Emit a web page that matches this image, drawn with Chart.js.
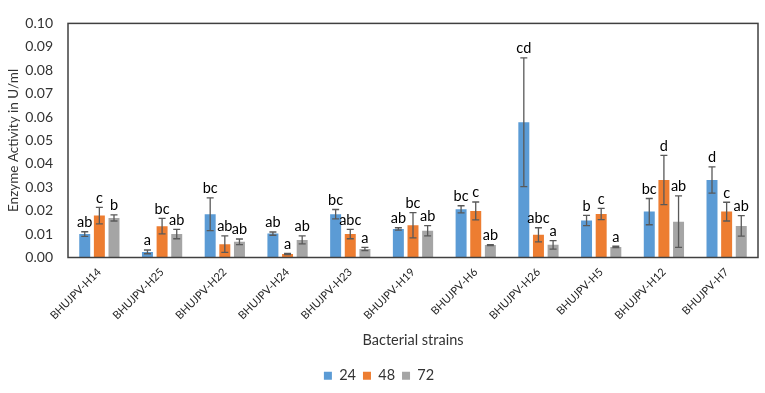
<!DOCTYPE html>
<html>
<head>
<meta charset="utf-8">
<script src="https://cdn.jsdelivr.net/npm/chart.js@4/dist/chart.umd.min.js"></script>
<style>
html,body{margin:0;padding:0;background:#fff;}
#wrap{width:765px;height:393px;}
</style>
</head>
<body>
<div id="wrap"><canvas id="c" width="765" height="393"></canvas></div>
<script>
const categories = ['BHUJPV-H14','BHUJPV-H25','BHUJPV-H22','BHUJPV-H24','BHUJPV-H23','BHUJPV-H19','BHUJPV-H6','BHUJPV-H26','BHUJPV-H5','BHUJPV-H12','BHUJPV-H7'];
const seriesNames = ['24','48','72'];
const s24 = [0.0100,0.0024,0.0185,0.0102,0.0185,0.0122,0.0206,0.0578,0.0158,0.0196,0.0331];
const s48 = [0.0179,0.0134,0.0057,0.0015,0.0100,0.0138,0.0199,0.0097,0.0186,0.0331,0.0196];
const s72 = [0.0169,0.0100,0.0067,0.0075,0.0036,0.0114,0.0053,0.0054,0.0045,0.0153,0.0135];
const e24 = [0.0010,0.0008,0.0070,0.0007,0.0020,0.0005,0.0015,0.0275,0.0022,0.0056,0.0056];
const e48 = [0.0035,0.0033,0.0035,0.0003,0.0020,0.0054,0.0038,0.0030,0.0024,0.0105,0.0040];
const e72 = [0.0013,0.0020,0.0012,0.0017,0.0007,0.0022,0.0002,0.0018,0.0003,0.0110,0.0044];
const letters24 = ['ab','a','bc','ab','bc','ab','bc','cd','b','bc','d'];
const letters48 = ['c','bc','ab','a','abc','bc','c','abc','c','d','c'];
const letters72 = ['b','ab','ab','ab','a','ab','ab','a','a','ab','ab'];
const yTicks = [0,0.01,0.02,0.03,0.04,0.05,0.06,0.07,0.08,0.09,0.10];

const FONT = 'Lato, "Liberation Sans", sans-serif';
const colors = ['#5B9BD5','#ED7D31','#A5A5A5'];
const errs = [e24,e48,e72];
const letters = [letters24,letters48,letters72];

const errPlugin = {
  id:'errBars',
  afterDatasetsDraw(chart){
    const ctx = chart.ctx;
    const y = chart.scales.y;
    ctx.save();
    chart.data.datasets.forEach((ds,di)=>{
      const meta = chart.getDatasetMeta(di);
      meta.data.forEach((el,i)=>{
        const v = ds.data[i], e = errs[di][i];
        const yt = y.getPixelForValue(v+e), yb = y.getPixelForValue(Math.max(0,v-e));
        ctx.strokeStyle = '#595959';
        ctx.lineWidth = 1.3;
        ctx.beginPath();
        ctx.moveTo(el.x, yt); ctx.lineTo(el.x, yb);
        ctx.moveTo(el.x-3.5, yt); ctx.lineTo(el.x+3.5, yt);
        ctx.moveTo(el.x-3.5, yb); ctx.lineTo(el.x+3.5, yb);
        ctx.stroke();
        ctx.fillStyle = '#000';
        ctx.font = '14.5px ' + FONT;
        ctx.textAlign = 'center';
        ctx.textBaseline = 'bottom';
        ctx.fillText(letters[di][i], el.x, yt - 2);
      });
    });
    const a = chart.chartArea;
    ctx.strokeStyle = '#404040';
    ctx.lineWidth = 1.5;
    ctx.strokeRect(a.left, a.top, a.right-a.left, a.bottom-a.top);
    ctx.restore();
  }
};

new Chart(document.getElementById('c'), {
  type:'bar',
  data:{
    labels: categories,
    datasets: [s24,s48,s72].map((d,i)=>({
      label: seriesNames[i],
      data: d,
      backgroundColor: colors[i],
      borderWidth: 0,
      categoryPercentage: 0.7,
      barPercentage: 0.75
    }))
  },
  options:{
    responsive:false,
    animation:false,
    devicePixelRatio:1,
    layout:{padding:{left:0,right:7,top:10,bottom:0}},
    plugins:{
      legend:{
        position:'bottom',
        labels:{boxWidth:8,boxHeight:8,font:{family:FONT,size:14.5},color:'#333',padding:7}
      },
      tooltip:{enabled:false}
    },
    scales:{
      x:{
        grid:{display:false,drawTicks:false},
        border:{display:false},
        ticks:{minRotation:45,maxRotation:45,padding:8,font:{family:FONT,size:11},color:'#262626'},
        title:{display:true,text:'Bacterial strains',font:{family:FONT,size:14.5},color:'#333',padding:{top:4,bottom:12}},
        afterFit(s){ s.height = 104; }
      },
      y:{
        min:0,max:0.1,
        grid:{display:false,drawTicks:false},
        border:{display:false},
        afterBuildTicks(s){ s.ticks = yTicks.map(v=>({value:v})); },
        ticks:{padding:15,font:{family:FONT,size:14},color:'#333',callback:v=>Number(v).toFixed(2)},
        title:{display:true,text:'Enzyme Activity in U/ml',font:{family:FONT,size:13.5},color:'#333',padding:{top:6,bottom:4}},
        afterFit(s){ s.width = 68; }
      }
    }
  },
  plugins:[errPlugin]
});
</script>
</body>
</html>
